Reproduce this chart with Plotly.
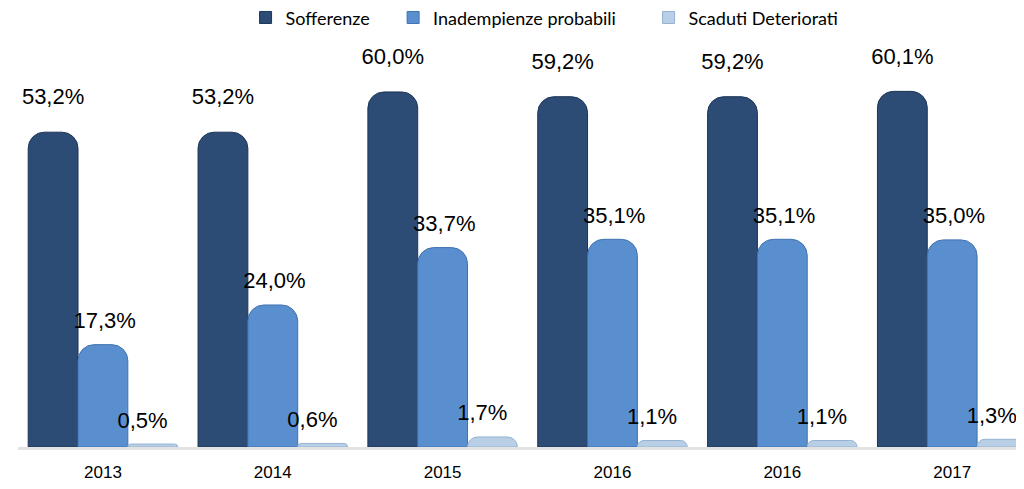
import plotly.graph_objects as go

# anni (2016 compare due volte nel grafico originale)
years = ['2013', '2014', '2015', '2016', '2016', '2017']
sofferenze = [53.2, 53.2, 60.0, 59.2, 59.2, 60.1]
inadempienze = [17.3, 24.0, 33.7, 35.1, 35.1, 35.0]
scaduti = [0.5, 0.6, 1.7, 1.1, 1.1, 1.3]

# nome, valori, colore, bordo, distanza etichetta, spostamento etichetta, spazi legenda
series = [
    ('Sofferenze', sofferenze, '#2c4c76', '#1d3557', 34, 0.0, 4),
    ('Inadempienze probabili', inadempienze, '#5a8fcf', '#3f72b0', 16, 0.01, 6),
    ('Scaduti Deteriorati', scaduti, '#b9cfe6', '#95b2d3', 16, -0.06, 0),
]

pos = list(range(len(years)))
bargap = 0.12
bw = (1 - bargap) / len(series)

NBSP = '\u00a0'


def fmt(v):
    return f'{v:.1f}%'.replace('.', ',')


fig = go.Figure()
for i, (name, vals, col, edge, gap, shift, pad) in enumerate(series):
    fig.add_trace(go.Bar(
        x=pos, y=vals, name=name, showlegend=False,
        marker=dict(color=col, line=dict(color=edge, width=1), cornerradius=16),
        cliponaxis=False,
    ))
    # etichette sopra le barre (marker invisibile per distanziarle)
    off = (i - 1) * bw + shift
    fig.add_trace(go.Scatter(
        x=[p + off for p in pos], y=vals, mode='markers+text', showlegend=False,
        marker=dict(size=gap, opacity=0), hoverinfo='skip',
        text=[fmt(v) for v in vals], textposition='top center',
        textfont=dict(family='Liberation Sans Narrow, Arial Narrow, Liberation Sans', size=22, color='#000'),
        cliponaxis=False,
    ))
    # voce di legenda con quadratino
    fig.add_trace(go.Scatter(
        x=[None], y=[None], mode='markers', name=name + NBSP * pad,
        marker=dict(symbol='square', size=12, color=col, line=dict(color=edge, width=1)),
    ))

fig.update_layout(
    width=1024, height=489,
    margin=dict(l=10, r=0, t=52, b=50),
    plot_bgcolor='white', paper_bgcolor='white',
    barmode='group', bargap=bargap, bargroupgap=0,
    showlegend=True,
    legend=dict(orientation='h', xref='container', x=0.232, xanchor='left',
                yref='container', y=0.98, yanchor='middle',
                font=dict(family='Lato, Open Sans, sans-serif', size=18, color='#000'),
                itemwidth=30, traceorder='normal'),
    xaxis=dict(tickvals=pos, ticktext=years, range=[-0.5, 5.47], showgrid=False,
               showline=True, linecolor='#e3e3e3', linewidth=3, zeroline=False, ticks='',
               ticklabelstandoff=8,
               tickfont=dict(family='Liberation Sans, Arial', size=17, color='#000')),
    yaxis=dict(range=[0, 65.4], visible=False, showgrid=False, zeroline=False),
)

fig.write_html('out.html')
